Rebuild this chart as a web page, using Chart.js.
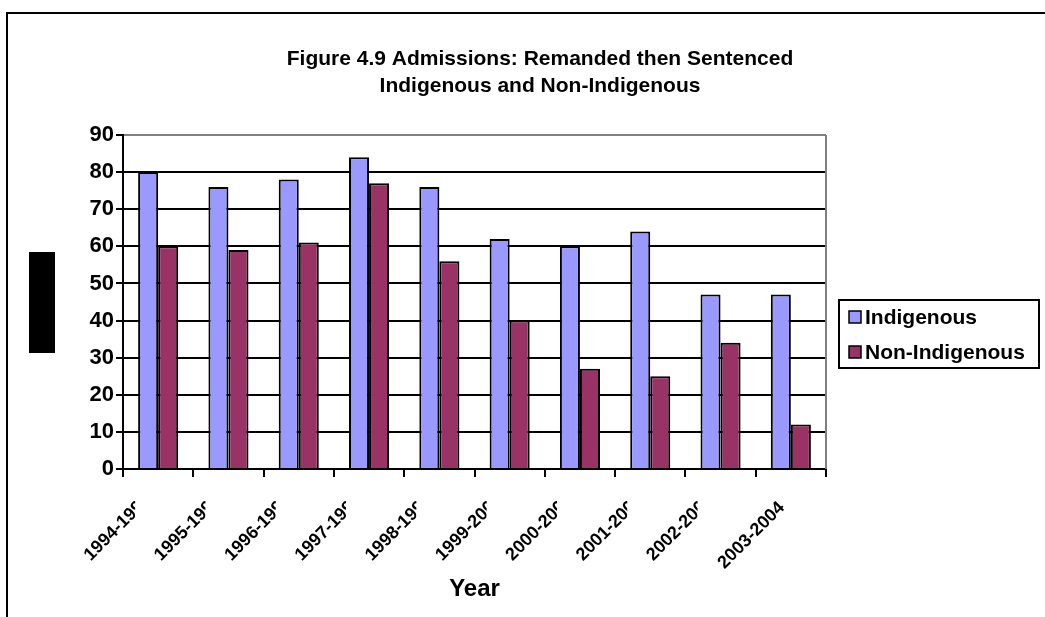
<!DOCTYPE html>
<html>
<head>
<meta charset="utf-8">
<script src="https://cdn.jsdelivr.net/npm/chart.js@4.4.1/dist/chart.umd.min.js"></script>
<style>
  html, body { margin: 0; padding: 0; background: #fff; }
  #wrap { width: 1045px; height: 617px; position: relative; }
</style>
</head>
<body>
<div id="wrap"><canvas id="chart"></canvas></div>
<script>
// categories (financial years)
const years = ['1994-1995', '1995-1996', '1996-1997', '1997-1998', '1998-1999',
  '1999-2000', '2000-2001', '2001-2002', '2002-2003', '2003-2004'];
// series values
const indigenous = [80, 76, 78, 84, 76, 62, 60, 64, 47, 47];
const nonIndigenous = [60, 59, 61, 77, 56, 40, 27, 25, 34, 12];
// y tick range
const yMin = 0, yMax = 90, yStep = 10;
const titleLines = ['Figure 4.9 Admissions: Remanded then Sentenced', 'Indigenous and Non-Indigenous'];

const FONT = 'Liberation Sans, Arial, Helvetica, sans-serif';

//Rotated category labels, cut off like in the original (all but the last one)
const yearLabels = {
  id: 'yearLabels',
  afterDraw(chart) {
    const ctx = chart.ctx;
    const xs = chart.scales.x;
    const last = chart.data.labels.length - 1;
    ctx.save();
    ctx.fillStyle = '#000';
    ctx.font = 'bold 18px ' + FONT;
    ctx.textAlign = 'right';
    ctx.textBaseline = 'middle';
    chart.data.labels.forEach((lab, i) => {
      const cx = xs.getPixelForTick(i);
      ctx.save();
      if (i < last) {
        ctx.beginPath();
        ctx.rect(0, xs.top, cx - 23, 300);
        ctx.clip();
        ctx.translate(cx - 10, 497);
      } else {
        ctx.translate(cx - 9, 505);
      }
      ctx.rotate(-Math.PI / 4);
      ctx.fillText(lab, 0, 0);
      ctx.restore();
    });
    ctx.restore();
  }
};

//Draws frame, title, the blacked-out y title, plot border and legend
const decor = {
  id: 'decor',
  afterDraw(chart) {
    const ctx = chart.ctx;
    const area = chart.chartArea;
    ctx.save();
    // outer frame (only top and left edges visible)
    ctx.strokeStyle = '#000';
    ctx.lineWidth = 2;
    ctx.beginPath();
    ctx.moveTo(7, 617);
    ctx.lineTo(7, 13);
    ctx.lineTo(1045, 13);
    ctx.stroke();
    // redacted axis title block
    ctx.fillStyle = '#000';
    ctx.fillRect(29, 252, 26, 101);
    // gray right border of plot area
    ctx.strokeStyle = '#808080';
    ctx.beginPath();
    ctx.moveTo(area.right, area.top);
    ctx.lineTo(area.right, area.bottom);
    ctx.stroke();
    // title
    ctx.fillStyle = '#000';
    ctx.font = 'bold 21px ' + FONT;
    ctx.textAlign = 'center';
    ctx.textBaseline = 'middle';
    titleLines.forEach((t, i) => ctx.fillText(t, 540, 59 + i * 27));
    // legend
    ctx.strokeStyle = '#000';
    ctx.lineWidth = 2;
    ctx.strokeRect(839, 300, 200, 68);
    ctx.font = 'bold 21px ' + FONT;
    ctx.textAlign = 'left';
    chart.data.datasets.forEach((ds, i) => {
      const cy = 317 + i * 35;
      ctx.fillStyle = ds.backgroundColor;
      ctx.fillRect(849, cy - 6, 12, 12);
      ctx.lineWidth = 1.5;
      ctx.strokeRect(849, cy - 6, 12, 12);
      ctx.fillStyle = '#000';
      ctx.fillText(ds.label, 865, cy + 1);
    });
    ctx.restore();
  }
};

new Chart(document.getElementById('chart'), {
  type: 'bar',
  plugins: [decor, yearLabels],
  data: {
    labels: years,
    datasets: [
      { label: 'Indigenous', data: indigenous, backgroundColor: '#9999FF',
        borderColor: '#000', borderWidth: 2 },
      { label: 'Non-Indigenous', data: nonIndigenous, backgroundColor: '#993366',
        borderColor: '#000', borderWidth: 2 }
    ]
  },
  options: {
    responsive: true,
    maintainAspectRatio: false,
    animation: false,
    datasets: { bar: { categoryPercentage: 0.57, barPercentage: 1 } },
    layout: { padding: { left: 0, right: 219, top: 135, bottom: 9 } },
    plugins: {
      legend: { display: false },
      tooltip: { enabled: false },
      title: { display: false }
    },
    scales: {
      x: {
        afterFit: s => { s.height = 139; },
        grid: { drawOnChartArea: false, color: '#000', lineWidth: 2, tickLength: 8, offset: true },
        border: { color: '#000', width: 2 },
        ticks: { display: false },
        title: { display: true, text: 'Year', color: '#000',
          font: { family: FONT, size: 24, weight: 'bold' }, padding: 4 }
      },
      y: {
        min: yMin, max: yMax,
        afterFit: s => { s.width = 123; },
        grid: {
          color: c => (c.tick && c.tick.value === yMax ? '#808080' : '#000'),
          tickColor: '#000', lineWidth: 2, tickLength: 7
        },
        border: { color: '#000', width: 2 },
        ticks: {
          stepSize: yStep, color: '#000', padding: 2,
          font: { family: FONT, size: 22, weight: 'bold' }
        }
      }
    }
  }
});
</script>
</body>
</html>
